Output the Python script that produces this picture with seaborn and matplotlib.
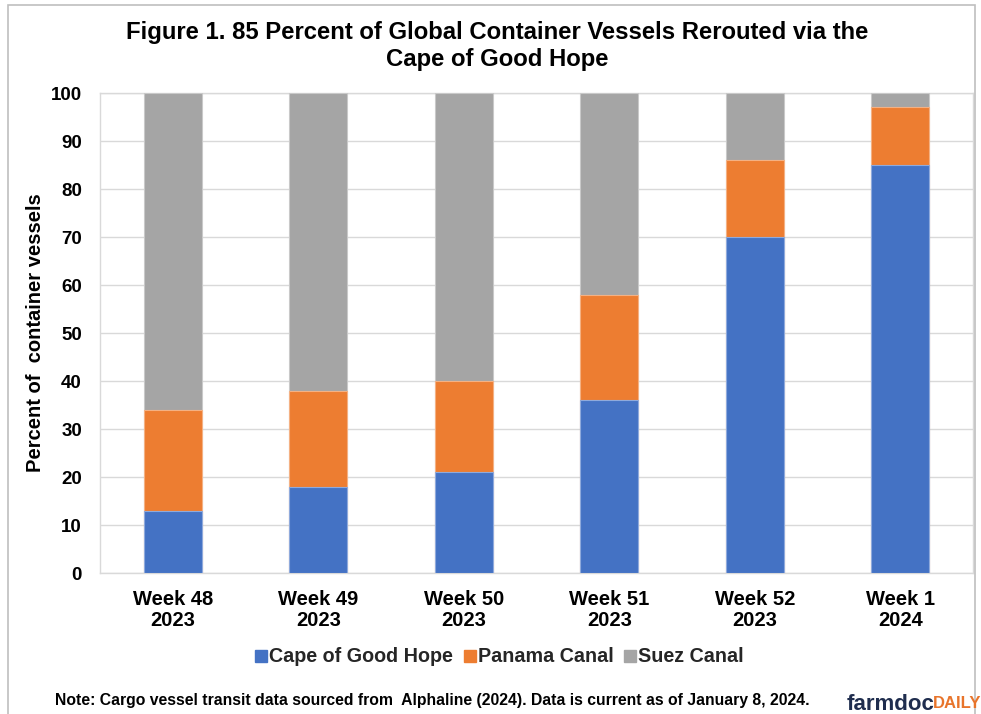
import matplotlib
matplotlib.use("Agg")
import matplotlib.pyplot as plt
import seaborn as sns
import pandas as pd
import numpy as np
from matplotlib.patches import Rectangle
from matplotlib.lines import Line2D

categories = ["Week 48\n2023", "Week 49\n2023", "Week 50\n2023", "Week 51\n2023", "Week 52\n2023", "Week 1\n2024"]
cape = [13, 18, 21, 36, 70, 85]
panama = [21, 20, 19, 22, 16, 12]
suez = [66, 62, 60, 42, 14, 3]
series_names = ["Cape of Good Hope", "Panama Canal", "Suez Canal"]
colors = ["#4472C4", "#ED7D31", "#A5A5A5"]
edge_colors = ["#8FAADC", "#F4B183", "#C9C9C9"]

sns.set_theme(style="white")
plt.rcParams['font.family'] = ['Liberation Sans', 'DejaVu Sans']

fig = plt.figure(figsize=(9.81, 7.14), dpi=100)
ax = fig.add_axes([100/981, 1-573/714, 873/981, 480/714])

df = pd.DataFrame({"cat": categories, "cape": cape, "panama": panama, "suez": suez})
df["c1"] = df["cape"]
df["c2"] = df["cape"] + df["panama"]
df["c3"] = df["c2"] + df["suez"]

layers = [("c3", 2), ("c2", 1), ("c1", 0)]
for col, i in layers:
    sns.barplot(data=df, x="cat", y=col, color=colors[i], width=0.4, ax=ax,
                saturation=1, edgecolor=edge_colors[i], linewidth=0.8, zorder=3)

ax.set_ylim(0, 100)
ax.set_xlim(-0.5, 5.5)
ax.set_yticks(np.arange(0, 101, 10))
ax.yaxis.grid(True, color="#D9D9D9", linewidth=1.0, zorder=0)
ax.set_axisbelow(True)
for s in ax.spines.values():
    s.set_visible(True)
    s.set_color("#D9D9D9")
    s.set_linewidth(1.0)
ax.tick_params(axis="both", length=0)
ax.tick_params(axis="y", pad=13)
ax.tick_params(axis="x", pad=12)
for lab in ax.get_yticklabels():
    lab.set_fontsize(13.5); lab.set_fontweight("bold"); lab.set_color("#000000")
for lab in ax.get_xticklabels():
    lab.set_fontsize(14.5); lab.set_fontweight("bold"); lab.set_color("#000000")
    lab.set_linespacing(1.15)
ax.set_xlabel("")
ax.set_ylabel("Percent of  container vessels", fontsize=14.5, fontweight="bold", color="#000000", labelpad=4)

fig.text(497/981, 1-46/714, "Figure 1. 85 Percent of Global Container Vessels Rerouted via the\nCape of Good Hope",
         ha="center", va="center", fontsize=17.2, fontweight="bold", linespacing=1.2, color="#000000")

handles = [Line2D([0], [0], marker="s", linestyle="none", markersize=8, markerfacecolor=c, markeredgecolor=c) for c in colors]
fig.legend(handles, series_names, loc="center", bbox_to_anchor=(499/981, 1-657/714), ncol=3, frameon=False,
           prop={"size": 14.2, "weight": "bold"}, handletextpad=0.05, columnspacing=0.5, handlelength=0.7)

fig.text(432/981, 1-700/714, "Note: Cargo vessel transit data sourced from  Alphaline (2024). Data is current as of January 8, 2024.",
         ha="center", va="center", fontsize=11.3, fontweight="bold", color="#000000")

fig.text(847/981, 1-704/714, "farmdoc", ha="left", va="center", fontsize=16, fontweight="bold", color="#1F2D4E")
fig.text(933/981, 1-704/714, "DAILY", ha="left", va="center", fontsize=12, fontweight="bold", color="#E8742B")

fig.patches.append(Rectangle((8/981, -0.01), (975-8)/981, 1-5/714+0.01, transform=fig.transFigure,
                             fill=False, edgecolor="#BFBFBF", linewidth=1.2, zorder=0))

fig.savefig("out.png", dpi=100)
